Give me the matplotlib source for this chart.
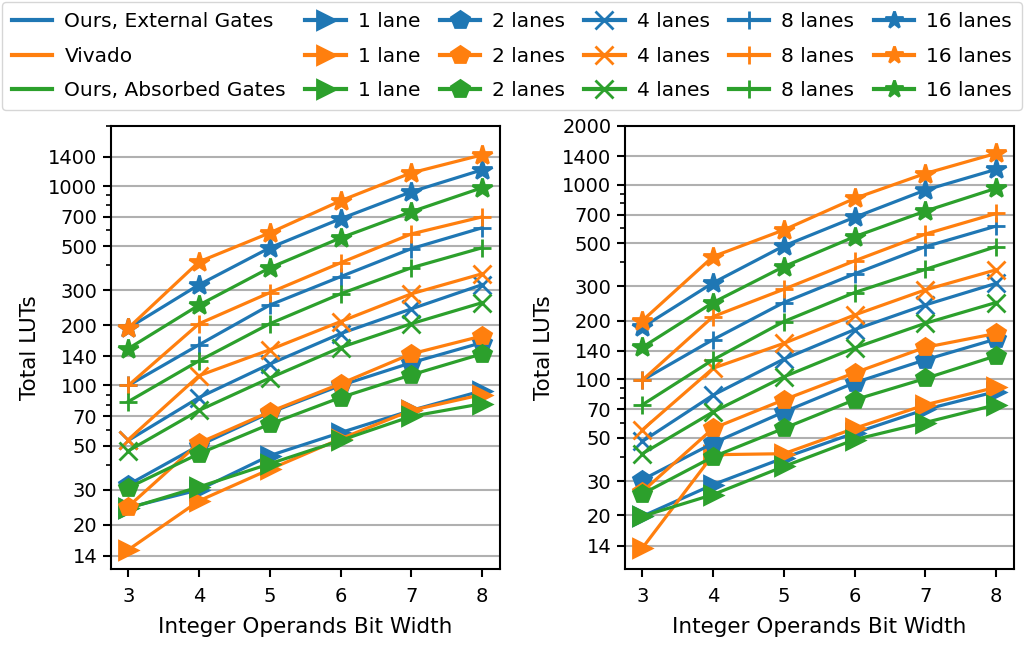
import matplotlib.pyplot as plt
from matplotlib.lines import Line2D
from matplotlib.ticker import LogLocator, NullFormatter, FixedLocator, FixedFormatter

plt.rcParams['font.family'] = ['DejaVu Sans']
plt.rcParams['font.size'] = 14

bit_widths = [3, 4, 5, 6, 7, 8]
lanes = [1, 2, 4, 8, 16]
markers = {1: '>', 2: 'p', 4: 'x', 8: '+', 16: '*'}

# left plot: LUTs per lane count
left_ext = {
    1: [24.4, 30, 44.5, 58, 75, 94],
    2: [31.8, 50, 73, 100, 130, 164],
    4: [53, 87, 128, 182, 242, 320],
    8: [100, 160, 253, 351, 485, 617],
    16: [194, 320, 490, 685, 935, 1205],
}
left_viv = {
    1: [15, 26.4, 38, 54, 75, 90],
    2: [24.7, 51.5, 73.8, 102, 144, 177],
    4: [53.5, 112, 151, 209, 288, 363],
    8: [100, 204, 292, 412, 575, 700],
    16: [194, 417, 582, 843, 1164, 1432],
}
left_abs = {
    1: [24.2, 31, 40.5, 53, 70, 81],
    2: [30.7, 45.5, 64, 87, 113, 144],
    4: [47, 75, 109, 155, 204, 260],
    8: [83, 133, 204, 288, 389, 490],
    16: [153, 253, 389, 549, 743, 980],
}

# right plot
right_ext = {
    1: [19.8, 28.8, 39.5, 53, 70, 86.5],
    2: [30.5, 47, 68, 96, 126, 161],
    4: [48, 83, 127, 180, 241, 311],
    8: [99, 160, 248, 348, 480, 612],
    16: [185, 313, 484, 679, 937, 1197],
}
right_viv = {
    1: [13.6, 41, 41.5, 56, 74, 91],
    2: [26.5, 56, 78.5, 108, 146, 172],
    4: [55, 114, 153, 214, 288, 365],
    8: [99, 210, 290, 406, 557, 711],
    16: [200, 427, 585, 849, 1140, 1446],
}
right_abs = {
    1: [19.8, 25.6, 35.7, 49, 60, 74],
    2: [25.8, 40, 56, 78.5, 101, 132],
    4: [41.5, 68, 103, 145, 194, 248],
    8: [74, 126, 198, 279, 367, 480],
    16: [146, 248, 379, 540, 731, 957],
}

left_ticks = [14, 20, 30, 50, 70, 100, 140, 200, 300, 500, 700, 1000, 1400]
right_ticks = left_ticks + [2000]

tools = ['Ours, External Gates', 'Vivado', 'Ours, Absorbed Gates']
colors = ['#1f77b4', '#ff7f0e', '#2ca02c']

fig = plt.figure(figsize=(10.24, 6.46), dpi=100)
ax1 = fig.add_axes([0.108, 0.119, 0.380, 0.686])
ax2 = fig.add_axes([0.610, 0.119, 0.380, 0.686])


def draw(ax, series, ticks, ylim):
    for n in lanes:
        for data, c in zip(series, colors):
            m = markers[n]
            ms = 15 if m == '*' else 13
            ax.plot(bit_widths, data[n], color=c, marker=m, ms=ms,
                    mew=2, lw=2.3)
    ax.set_yscale('log')
    ax.set_ylim(*ylim)
    ax.set_xlim(2.75, 8.25)
    ax.yaxis.set_major_locator(FixedLocator(ticks))
    ax.yaxis.set_major_formatter(FixedFormatter([str(t) for t in ticks]))
    ax.yaxis.set_minor_locator(LogLocator(subs=range(2, 10)))
    ax.yaxis.set_minor_formatter(NullFormatter())
    ax.set_xticks(bit_widths)
    ax.grid(True, axis='y', which='major', color='#b0b0b0', lw=1.5)
    ax.set_axisbelow(True)
    ax.tick_params(axis='both', which='major', length=6, width=1.5, labelsize=14)
    ax.tick_params(axis='x', which='major', pad=7)
    ax.tick_params(axis='y', which='minor', length=3.5, width=1.2)
    for s in ax.spines.values():
        s.set_linewidth(1.5)
    ax.set_xlabel('Integer Operands Bit Width', fontsize=15.5, labelpad=8)
    ax.set_ylabel('Total LUTs', fontsize=15.5, labelpad=6)


draw(ax1, [left_ext, left_viv, left_abs], left_ticks, (12, 2000))
draw(ax2, [right_ext, right_viv, right_abs], right_ticks, (10.6, 2000))

# legend, filled column by column
handles = [Line2D([], [], color=c, lw=3) for c in colors]
labels = list(tools)
for n in lanes:
    for c in colors:
        handles.append(Line2D([], [], color=c, marker=markers[n], ms=13, mew=2, lw=3))
        labels.append('1 lane' if n == 1 else f'{n} lanes')

fig.legend(handles, labels, ncol=6, loc='upper left', mode='expand',
           bbox_to_anchor=(0.002, 0.997, 0.996, 0), fontsize=14.5,
           handlelength=2.0, columnspacing=0.5, handletextpad=0.6,
           borderaxespad=0.0, labelspacing=0.78, borderpad=0.5)

fig.savefig('out.png', dpi=100)
